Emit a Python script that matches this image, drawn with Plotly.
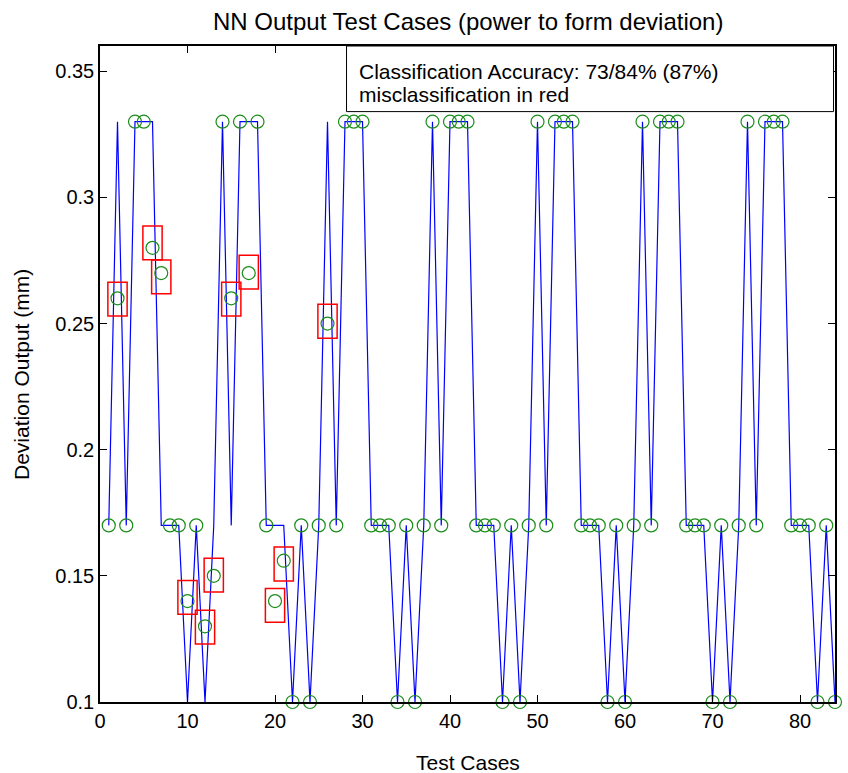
import plotly.graph_objects as go

# ---------------- data ----------------
case_no = list(range(1, 85))
target = [0.17, 0.33, 0.17, 0.33, 0.33, 0.33, 0.17, 0.17, 0.17, 0.10,
          0.17, 0.10, 0.17, 0.33, 0.17, 0.33, 0.33, 0.33, 0.17, 0.17,
          0.17, 0.10, 0.17, 0.10, 0.17, 0.33, 0.17, 0.33, 0.33, 0.33,
          0.17, 0.17, 0.17, 0.10, 0.17, 0.10, 0.17, 0.33, 0.17, 0.33,
          0.33, 0.33, 0.17, 0.17, 0.17, 0.10, 0.17, 0.10, 0.17, 0.33,
          0.17, 0.33, 0.33, 0.33, 0.17, 0.17, 0.17, 0.10, 0.17, 0.10,
          0.17, 0.33, 0.17, 0.33, 0.33, 0.33, 0.17, 0.17, 0.17, 0.10,
          0.17, 0.10, 0.17, 0.33, 0.17, 0.33, 0.33, 0.33, 0.17, 0.17,
          0.17, 0.10, 0.17, 0.10]
# network outputs that differ from the target (misclassified)
mis_cases = [2, 6, 7, 10, 12, 13, 15, 17, 20, 21, 26]
mis_output = [0.26, 0.28, 0.27, 0.14, 0.13, 0.15, 0.26, 0.27, 0.14, 0.156, 0.25]
mis_box_center = [0.2597, 0.2820, 0.2685, 0.1415, 0.1297, 0.1503, 0.2597, 0.2704, 0.1383, 0.1547, 0.2509]

output = list(target)
for c, v in zip(mis_cases, mis_output):
    output[c - 1] = v

x_ticks = [0, 10, 20, 30, 40, 50, 60, 70, 80]
y_ticks = [0.1, 0.15, 0.2, 0.25, 0.3, 0.35]
y_tick_text = ["0.1", "0.15", "0.2", "0.25", "0.3", "0.35"]

title_text = "NN Output Test Cases (power to form deviation)"
x_label = "Test Cases"
y_label = "Deviation Output (mm)"
info_lines = ["Classification Accuracy: 73/84% (87%)", "misclassification in red"]

# ---------------- style ----------------
FONT = "Liberation Sans, Arial, Helvetica, sans-serif"
BOX_HALF_W = 1.1
BOX_HALF_H = 0.0067

fig = go.Figure()
fig.add_trace(go.Scatter(x=case_no, y=target, mode="lines",
                         line=dict(color="#0000ff", width=1.2),
                         showlegend=False, hoverinfo="skip"))
fig.add_trace(go.Scatter(x=case_no, y=output, mode="markers",
                         marker=dict(symbol="circle-open", size=13,
                                     color="#1a8c1a", line=dict(width=1.2)),
                         cliponaxis=False, showlegend=False))

for c, yc in zip(mis_cases, mis_box_center):
    fig.add_shape(type="rect", xref="x", yref="y",
                  x0=c - BOX_HALF_W, x1=c + BOX_HALF_W,
                  y0=yc - BOX_HALF_H, y1=yc + BOX_HALF_H,
                  line=dict(color="#ff0000", width=1.5))

# info box
fig.add_shape(type="rect", xref="paper", yref="paper",
              x0=0.3354, x1=0.998, y0=0.900, y1=1.0,
              line=dict(color="black", width=1), fillcolor="white", layer="above")
for i, t in enumerate(info_lines):
    fig.add_annotation(text=t, xref="paper", yref="paper",
                       x=0.3497, y=[0.9608, 0.9258][i], xanchor="left", yanchor="middle",
                       showarrow=False, font=dict(family=FONT, size=21, color="black"))

fig.add_annotation(text=title_text, xref="paper", yref="paper", x=0.5, y=1.0366,
                   xanchor="center", yanchor="middle", showarrow=False,
                   font=dict(family=FONT, size=24, color="black"))
fig.add_annotation(text=x_label, xref="paper", yref="paper", x=0.5, y=-0.0915,
                   xanchor="center", yanchor="middle", showarrow=False,
                   font=dict(family=FONT, size=21, color="black"))
fig.add_annotation(text=y_label, xref="paper", yref="paper", x=-0.1075, y=0.5,
                   xanchor="center", yanchor="middle", textangle=-90, showarrow=False,
                   font=dict(family=FONT, size=21, color="black"))

axis_common = dict(showgrid=False, zeroline=False, showline=True, linecolor="black",
                   linewidth=1.5, mirror="ticks", ticks="inside", ticklen=7,
                   tickwidth=1, tickcolor="black",
                   tickfont=dict(family=FONT, size=20, color="black"))
fig.update_xaxes(range=[0, 84], tickvals=x_ticks, **axis_common)
fig.update_yaxes(range=[0.1, 0.36], tickvals=y_ticks, ticktext=y_tick_text, **axis_common)

fig.update_layout(width=848, height=773,
                  margin=dict(l=100, r=11, t=46, b=71),
                  plot_bgcolor="white", paper_bgcolor="white",
                  font=dict(family=FONT))
fig.write_html("out.html")
